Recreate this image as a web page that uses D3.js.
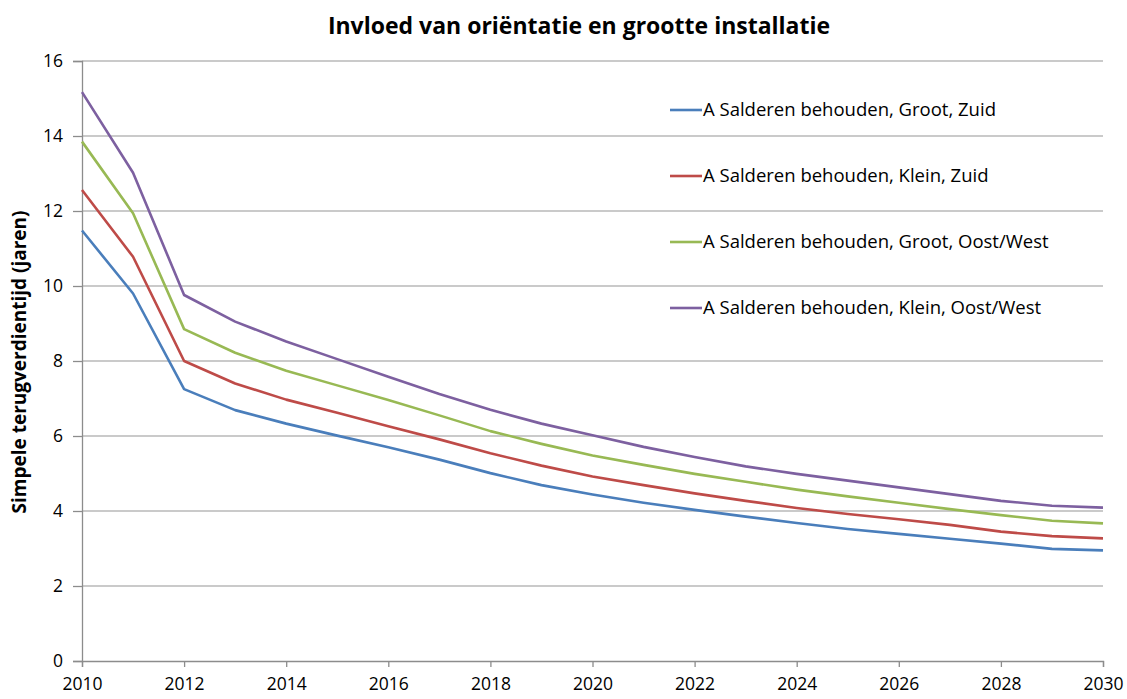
<!DOCTYPE html>
<html>
<head>
<meta charset="utf-8">
<script src="https://cdn.jsdelivr.net/npm/d3@7"></script>
<style>
  body { margin: 0; background: #fff; }
  svg { display: block; font-family: "Open Sans", sans-serif; }
</style>
</head>
<body>
<div id="chart"></div>
<script>
// Chart data
const years = d3.range(2010, 2031);
const yTicks = [0, 2, 4, 6, 8, 10, 12, 14, 16];
const xTicks = d3.range(2010, 2031, 2);

const seriesNames = [
  "A Salderen behouden, Groot, Zuid",
  "A Salderen behouden, Klein, Zuid",
  "A Salderen behouden, Groot, Oost/West",
  "A Salderen behouden, Klein, Oost/West"
];
const grootZuid = [11.48, 9.80, 7.25, 6.69, 6.33, 6.01, 5.70, 5.37, 5.01, 4.69, 4.44, 4.22, 4.03, 3.85, 3.68, 3.52, 3.39, 3.26, 3.13, 2.99, 2.95];
const kleinZuid = [12.56, 10.78, 8.00, 7.40, 6.97, 6.62, 6.26, 5.91, 5.54, 5.21, 4.92, 4.69, 4.47, 4.27, 4.08, 3.92, 3.78, 3.63, 3.45, 3.33, 3.27];
const grootOW = [13.85, 11.94, 8.85, 8.22, 7.74, 7.35, 6.96, 6.55, 6.13, 5.79, 5.48, 5.23, 4.99, 4.78, 4.57, 4.39, 4.22, 4.05, 3.89, 3.74, 3.67];
const kleinOW = [15.17, 13.02, 9.76, 9.05, 8.52, 8.05, 7.58, 7.12, 6.70, 6.33, 6.02, 5.71, 5.44, 5.19, 4.99, 4.81, 4.63, 4.45, 4.27, 4.14, 4.09];
const colors = ["#4A7EBB", "#BE4B48", "#98B954", "#7D60A0"];

const series = [grootZuid, kleinZuid, grootOW, kleinOW];

const width = 1127, height = 699;
const margin = { top: 61, right: 24, bottom: 38, left: 82 };

const svg = d3.select("#chart")
  .append("svg")
  .attr("width", width)
  .attr("height", height);

const x = d3.scaleLinear()
  .domain([2010, 2030])
  .range([margin.left, width - margin.right]);

const y = d3.scaleLinear()
  .domain([0, 16])
  .range([height - margin.bottom, margin.top]);

// horizontal gridlines
svg.append("g")
  .selectAll("line")
  .data(yTicks.filter(d => d > 0))
  .enter()
  .append("line")
  .attr("x1", margin.left)
  .attr("x2", width - margin.right)
  .attr("y1", d => y(d))
  .attr("y2", d => y(d))
  .attr("stroke", "#b8b8b8")
  .attr("stroke-width", 1.3);

// y axis
const yAxis = svg.append("g")
  .attr("transform", `translate(${margin.left},0)`)
  .call(d3.axisLeft(y).tickValues(yTicks).tickSize(9).tickPadding(10));
yAxis.select(".domain").attr("stroke", "#8c8c8c").attr("stroke-width", 1.3);
yAxis.selectAll(".tick line").attr("stroke", "#8c8c8c").attr("stroke-width", 1.3);
yAxis.selectAll("text")
  .attr("font-size", 17.5)
  .attr("font-family", "Open Sans, sans-serif")
  .attr("fill", "#000");

// x axis
const xAxis = svg.append("g")
  .attr("transform", `translate(0,${y(0)})`)
  .call(d3.axisBottom(x).tickValues(xTicks).tickFormat(d3.format("d")).tickSize(6).tickPadding(11));
xAxis.select(".domain").attr("stroke", "#8c8c8c").attr("stroke-width", 1.3);
xAxis.selectAll(".tick line").attr("stroke", "#8c8c8c").attr("stroke-width", 1.3);
xAxis.selectAll("text")
  .attr("font-size", 17.5)
  .attr("font-family", "Open Sans, sans-serif")
  .attr("fill", "#000");

// lines
const line = d3.line()
  .x((d, i) => x(years[i]))
  .y(d => y(d));

svg.append("g")
  .selectAll("path")
  .data(series)
  .enter()
  .append("path")
  .attr("d", line)
  .attr("fill", "none")
  .attr("stroke", (d, i) => colors[i])
  .attr("stroke-width", 2.6)
  .attr("stroke-linejoin", "round");

// legend
const legend = svg.append("g")
  .selectAll("g")
  .data(seriesNames)
  .enter()
  .append("g")
  .attr("transform", (d, i) => `translate(670,${110 + i * 66})`);

legend.append("line")
  .attr("x1", 0)
  .attr("x2", 32)
  .attr("stroke", (d, i) => colors[i])
  .attr("stroke-width", 2.6);

legend.append("text")
  .attr("x", 33)
  .attr("dy", "0.35em")
  .attr("font-size", 18.5)
  .text(d => d);

// title
svg.append("text")
  .attr("x", 579)
  .attr("y", 34)
  .attr("text-anchor", "middle")
  .attr("font-size", 23)
  .attr("font-weight", "bold")
  .text("Invloed van oriëntatie en grootte installatie");

// y axis title
svg.append("text")
  .attr("transform", "translate(26,362) rotate(-90)")
  .attr("text-anchor", "middle")
  .attr("font-size", 19)
  .attr("font-weight", "bold")
  .text("Simpele terugverdientijd (jaren)");
</script>
</body>
</html>
